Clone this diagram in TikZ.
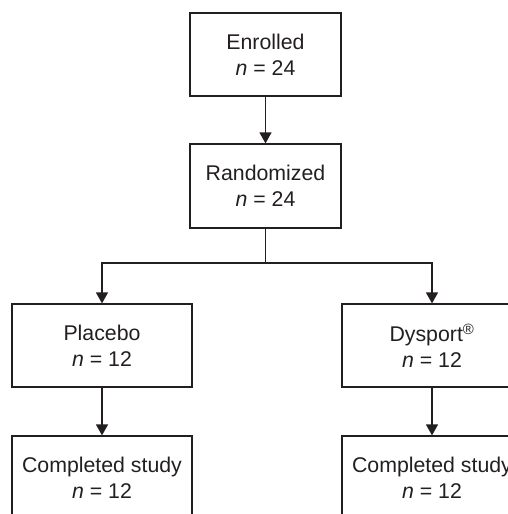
\documentclass[tikz,border=0pt]{standalone}
\usepackage{fontspec}
\setmainfont{Liberation Sans}
\usetikzlibrary{arrows.meta}
\definecolor{ink}{HTML}{231F20}
\tikzset{
  box/.style={draw=ink, line width=1.2pt, inner sep=0pt, align=center, text=ink,
    font=\fontsize{21.3}{25.7}\selectfont},
  conn/.style={draw=ink, line width=1.2pt},
  arr/.style={conn, -{Triangle[length=11pt,width=12pt]}}
}
\begin{document}
\begin{tikzpicture}[x=1pt,y=-1pt]
\useasboundingbox (0,0) rectangle (508,514);
\clip (0,0) rectangle (508,514);
\node[box, minimum width=151pt, minimum height=83pt] (enr) at (265.5,54.5) {Enrolled\\\textit{n} = 24};
\node[box, minimum width=151pt, minimum height=84pt] (rand) at (265.5,186) {Randomized\\\textit{n} = 24};
\node[box, minimum width=180pt, minimum height=83pt] (plac) at (102,345.5) {Placebo\\\textit{n} = 12};
\node[box, minimum width=180pt, minimum height=83pt] (dys) at (432,345.5) {Dysport\textsuperscript{\textregistered}\\\textit{n} = 12};
\node[box, minimum width=180pt, minimum height=83pt] (cpl) at (102,477.5) {Completed study\\\textit{n} = 12};
\node[box, minimum width=180pt, minimum height=83pt] (cdy) at (432,477.5) {Completed study\\\textit{n} = 12};
\coordinate (split) at (265.5,263);
\draw[arr] (enr) -- (rand);
\draw[conn] (rand.south) -- (split);
\draw[arr] (split) -| (plac.north);
\draw[arr] (split) -| (dys.north);
\draw[arr] (plac) -- (cpl);
\draw[arr] (dys) -- (cdy);
\end{tikzpicture}
\end{document}
